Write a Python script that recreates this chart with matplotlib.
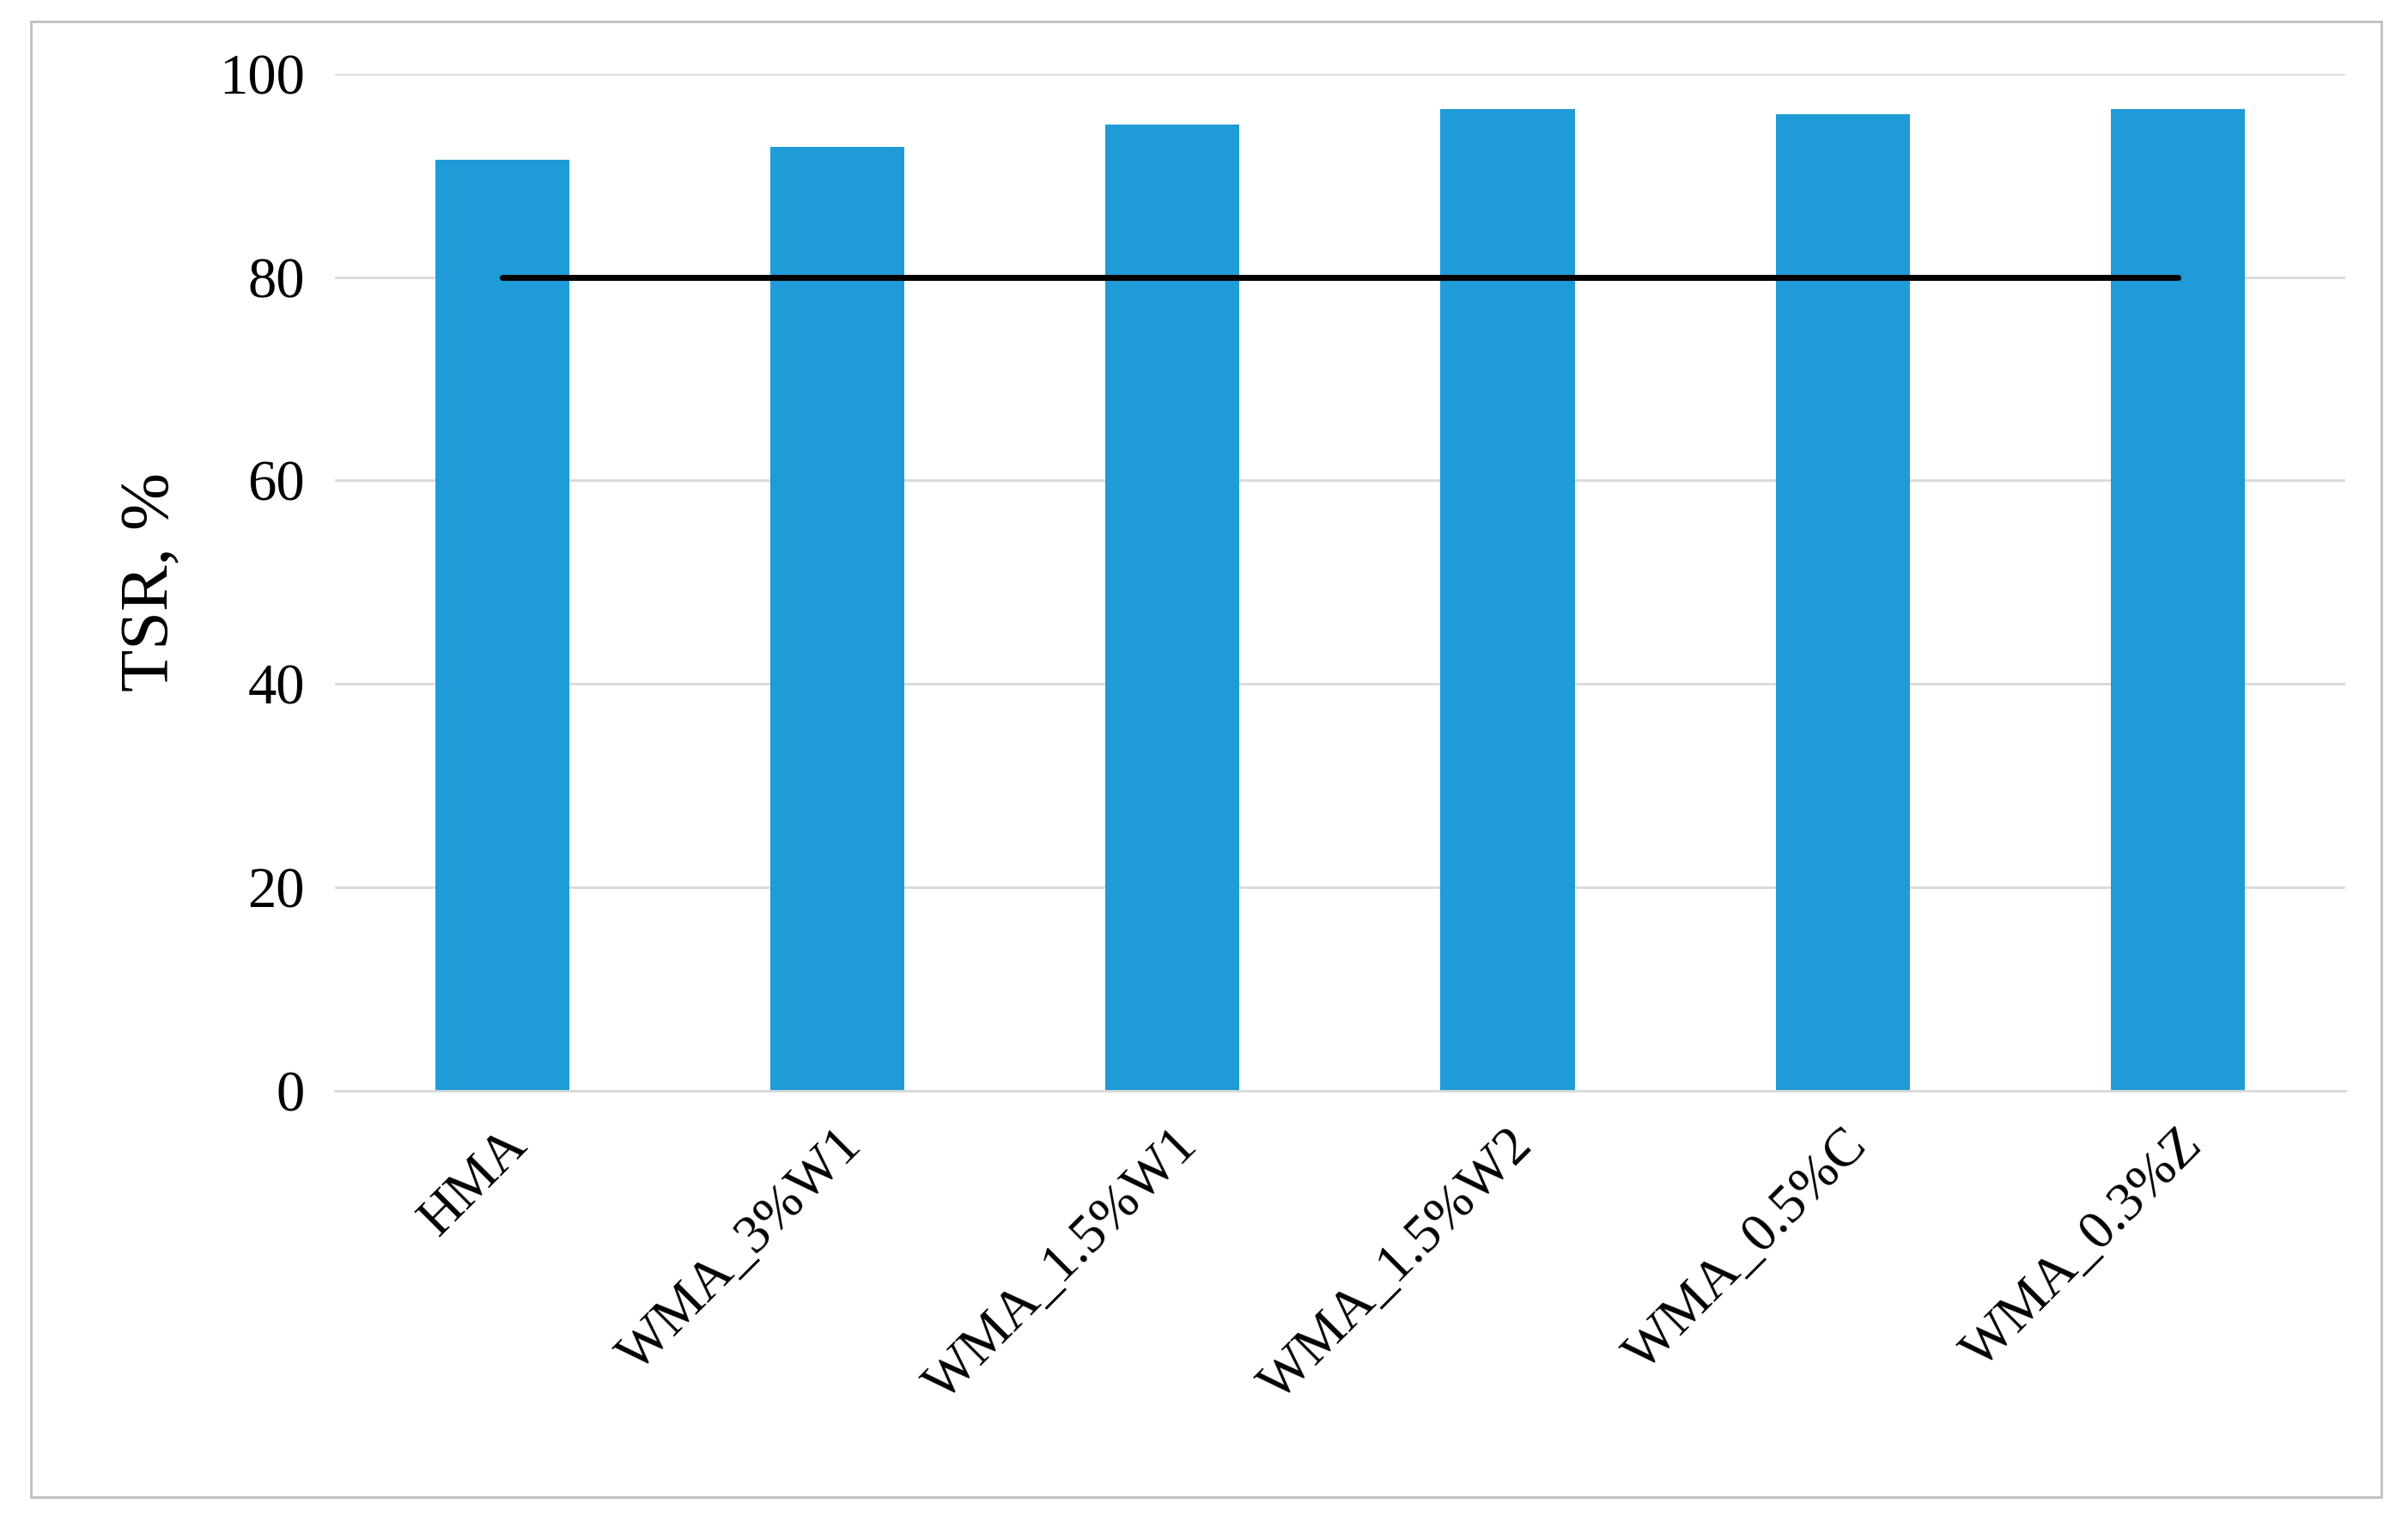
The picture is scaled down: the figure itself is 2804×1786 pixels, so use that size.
import matplotlib.pyplot as plt
from matplotlib.patches import Rectangle

categories = ["HMA", "WMA_3%W1", "WMA_1.5%W1", "WMA_1.5%W2", "WMA_0.5%C", "WMA_0.3%Z"]
tsr = [91.5, 92.8, 95.0, 96.5, 96.0, 96.5]
limit = [80, 80, 80, 80, 80, 80]

plt.rcParams['font.family'] = ['Liberation Serif', 'DejaVu Serif']

fig = plt.figure(figsize=(28.04, 17.86), dpi=100)
ax = fig.add_axes([0.139, 0.289, 0.835, 0.663])
x = range(len(categories))
ax.bar(x, tsr, width=0.4, color='#1f9bd7', zorder=2)
ax.plot(x, limit, color='black', linewidth=5, solid_capstyle='round', zorder=3)

ax.set_xlim(-0.5, len(categories) - 0.5)
ax.set_ylim(0, 100)
ax.set_yticks([0, 20, 40, 60, 80, 100])
ax.grid(axis='y', color='#d9d9d9', linewidth=2, zorder=0)
for s in ['top', 'right', 'left']:
    ax.spines[s].set_visible(False)
ax.spines['bottom'].set_color('#d9d9d9')
ax.spines['bottom'].set_linewidth(2)
ax.tick_params(axis='both', length=0, labelsize=48, pad=25)
ax.set_xticks(list(x))
ax.set_xticklabels(categories, rotation=45, ha='right', rotation_mode='anchor', fontsize=46)
ax.set_ylabel("TSR, %", fontsize=58, labelpad=30)

fig.patches.append(Rectangle((0.013, 0.024), 0.976, 0.962, transform=fig.transFigure,
                             fill=False, edgecolor='#bfbfbf', linewidth=2))
fig.savefig("out.png", dpi=100)
